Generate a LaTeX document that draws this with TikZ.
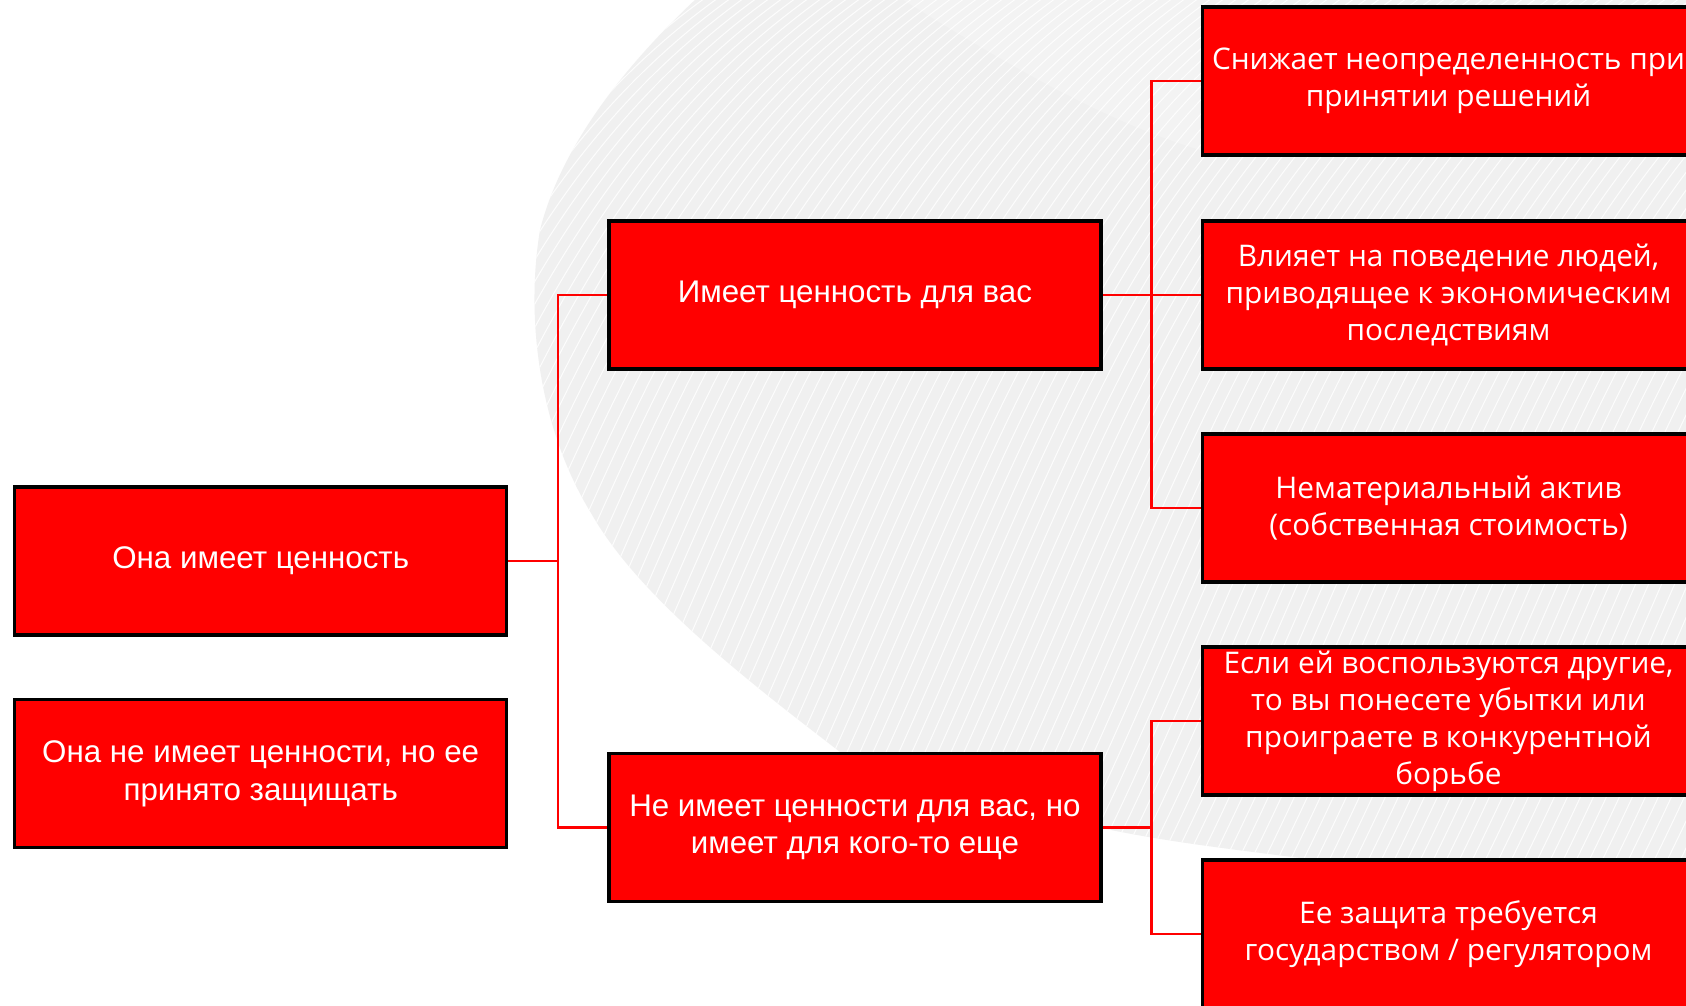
\documentclass[tikz,border=0pt]{standalone}
\usepackage{fontspec}
\setmainfont{Liberation Sans}
\newfontfamily\geofont{Open Sans}
\definecolor{boxred}{HTML}{FF0000}
\definecolor{bggray}{HTML}{F0F0F0}
\pgfdeclarelayer{bg}
\pgfdeclarelayer{conn}
\pgfsetlayers{bg,conn,main}
\tikzset{
  redbox/.style={draw=black, line width=3.5pt, fill=boxred, text=white,
    minimum width=492pt, minimum height=148pt, inner sep=0pt, align=center,
    font=\fontsize{31.3}{37.6}\selectfont},
  geobox/.style={redbox, font=\geofont\fontsize{29.8}{37}\selectfont},
  link/.style={draw=boxred, line width=2.5pt},
}
\begin{document}
\begin{tikzpicture}[x=1pt,y=-1pt]
\useasboundingbox (0,0) rectangle (1686,1006);
\clip (0,0) rectangle (1686,1006);
% background swirl
\begin{pgfonlayer}{bg}
\fill[white] (0,0) rectangle (1686,1006);
\begin{scope}
\clip (697,-2) .. controls (620,70) and (560,150) .. (540,230)
  .. controls (525,320) and (540,430) .. (591,513)
  .. controls (640,600) and (760,690) .. (840,752)
  -- (1000,800) .. controls (1100,835) and (1200,845) .. (1300,858)
  -- (1690,880) -- (1690,-2) -- cycle;
\fill[bggray] (0,0) rectangle (1686,1006);
\fill[black!4, opacity=0.6] (900,-2) .. controls (1000,60) and (1100,120) .. (1200,150) -- (1200,-2) -- cycle;
\foreach \i in {0,...,140} {
  \draw[white, line width=1pt, opacity=0.85]
    ({-200+\i*13},1020) .. controls ({50+\i*13},600) and ({100+\i*13},150) .. ({500+\i*13},-60);
}
\end{scope}
\end{pgfonlayer}
% nodes
\node[redbox] (A) at (260.7,560.8) {Она имеет ценность};
\node[redbox] (B) at (260.7,773.7) {Она не имеет ценности, но ее\\принято защищать};
\node[redbox] (C) at (854.9,295.2) {Имеет ценность для вас};
\node[redbox] (D) at (854.9,827.4) {Не имеет ценности для вас, но\\имеет для кого-то еще};
\node[geobox] (R1) at (1448.5,81.2) {Снижает неопределенность при\\принятии решений};
\node[geobox] (R2) at (1448.5,295.2) {Влияет на поведение людей,\\приводящее к экономическим\\последствиям};
\node[geobox] (R3) at (1448.5,508.1) {Нематериальный актив\\(собственная стоимость)};
\node[geobox] (R4) at (1448.5,721.0) {Если ей воспользуются другие,\\то вы понесете убытки или\\проиграете в конкурентной\\борьбе};
\node[geobox] (R5) at (1448.5,933.9) {Ее защита требуется\\государством / регулятором};
\coordinate (jL) at (558,560.8);
\coordinate (jR) at (1151.6,295.2);
\coordinate (jD) at (1151.6,827.4);
% connectors
\begin{pgfonlayer}{conn}
\draw[link] (A.east) -- (jL);
\draw[link] (C.west) -- (C.west -| jL) -- (D.west -| jL) -- (D.west);
\draw[link] (C.east) -- (jR);
\draw[link] (R1.west) -- (R1.west -| jR) -- (R3.west -| jR) -- (R3.west);
\draw[link] (R2.west) -- (jR);
\draw[link] (D.east) -- (jD);
\draw[link] (R4.west) -- (R4.west -| jD) -- (R5.west -| jD) -- (R5.west);
\end{pgfonlayer}
\end{tikzpicture}
\end{document}
